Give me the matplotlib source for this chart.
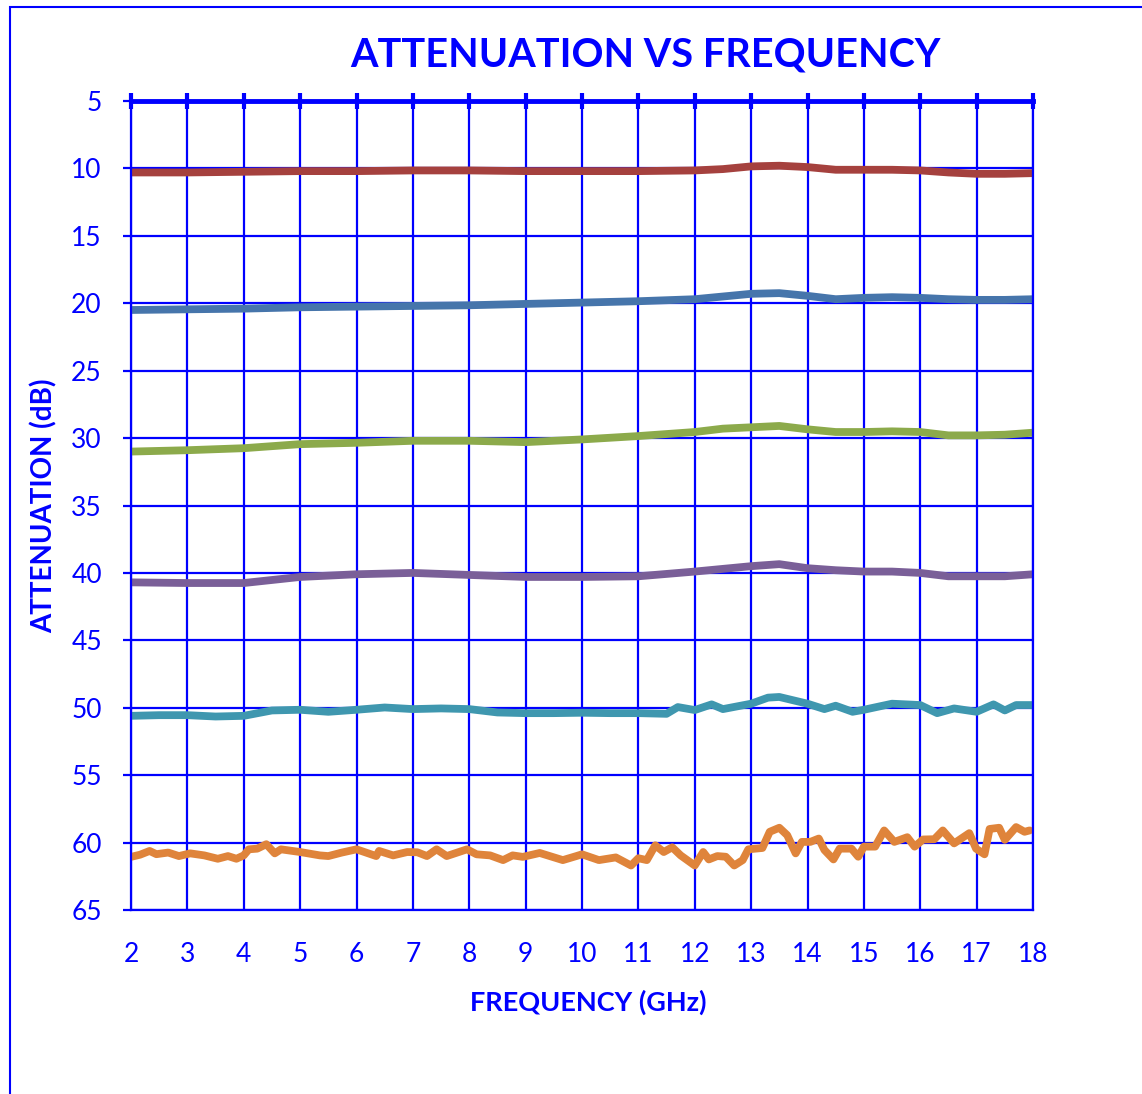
import matplotlib.pyplot as plt
from matplotlib.patches import Rectangle

# Données (fréquence en GHz, atténuation en dB)
freq_smooth = [2, 3, 4, 5, 6, 7, 8, 9, 10, 11, 12, 12.5, 13, 13.5, 14, 14.5, 15, 15.5, 16, 16.5, 17, 17.5, 18]
att_10db = [10.3, 10.3, 10.25, 10.2, 10.2, 10.15, 10.15, 10.2, 10.2, 10.2, 10.15, 10.05, 9.85, 9.8, 9.9,
            10.1, 10.1, 10.1, 10.15, 10.3, 10.4, 10.4, 10.35]
att_20db = [20.5, 20.45, 20.4, 20.3, 20.25, 20.2, 20.15, 20.05, 19.95, 19.85, 19.7, 19.5, 19.3, 19.25, 19.45,
            19.7, 19.6, 19.55, 19.6, 19.7, 19.75, 19.75, 19.7]
att_30db = [31.0, 30.9, 30.75, 30.45, 30.35, 30.2, 30.2, 30.3, 30.1, 29.85, 29.55, 29.3, 29.2, 29.1, 29.35,
            29.55, 29.55, 29.5, 29.55, 29.8, 29.8, 29.75, 29.6]
att_40db = [40.7, 40.75, 40.75, 40.3, 40.1, 40.0, 40.15, 40.3, 40.3, 40.25, 39.9, 39.7, 39.5, 39.35, 39.65,
            39.8, 39.9, 39.9, 40.0, 40.25, 40.25, 40.25, 40.1]

freq_50db = [2, 2.5, 3, 3.5, 4, 4.5, 5, 5.5, 6, 6.5, 7, 7.5, 8, 8.5, 9, 9.5, 10, 10.5, 11, 11.5, 11.7, 12,
             12.3, 12.5, 13, 13.3, 13.5, 14, 14.3, 14.5, 14.8, 15, 15.5, 16, 16.3, 16.6, 17, 17.3, 17.5, 17.7, 18]
att_50db = [50.6, 50.55, 50.55, 50.65, 50.6, 50.2, 50.15, 50.3, 50.15, 49.98, 50.1, 50.05, 50.1, 50.35, 50.4,
            50.4, 50.37, 50.4, 50.4, 50.45, 49.95, 50.17, 49.75, 50.1, 49.7, 49.25, 49.2, 49.7, 50.1, 49.85,
            50.3, 50.15, 49.7, 49.8, 50.4, 50.05, 50.3, 49.75, 50.2, 49.8, 49.8]

freq_60db = [2.0, 2.16, 2.33, 2.45, 2.66, 2.85, 3.05, 3.3, 3.54, 3.72, 3.87, 4.0, 4.09, 4.24, 4.4, 4.55,
             4.66, 5.0, 5.35, 5.5, 5.74, 6.0, 6.35, 6.4, 6.65, 6.9, 7.08, 7.25, 7.42, 7.6, 7.96, 8.13,
             8.37, 8.6, 8.77, 8.95, 9.25, 9.66, 9.9, 10.0, 10.3, 10.6, 10.87, 11.0, 11.15, 11.3, 11.45,
             11.6, 11.75, 12.0, 12.15, 12.25, 12.4, 12.55, 12.7, 12.85, 12.95, 13.2, 13.33, 13.5, 13.64,
             13.79, 13.9, 14.05, 14.2, 14.3, 14.46, 14.57, 14.78, 14.9, 15.0, 15.2, 15.36, 15.54, 15.77,
             15.9, 16.05, 16.25, 16.4, 16.6, 16.87, 16.99, 17.14, 17.23, 17.4, 17.5, 17.7, 17.85, 17.94]
att_60db = [61.06, 60.9, 60.62, 60.86, 60.74, 61.0, 60.8, 60.95, 61.2, 61.0, 61.2, 60.95, 60.5, 60.45,
            60.12, 60.8, 60.5, 60.7, 60.95, 61.0, 60.74, 60.5, 61.0, 60.62, 60.95, 60.7, 60.72, 61.0, 60.5,
            61.0, 60.5, 60.87, 60.95, 61.3, 60.95, 61.06, 60.77, 61.3, 61.0, 60.87, 61.3, 61.1, 61.7, 61.16,
            61.3, 60.2, 60.7, 60.35, 60.95, 61.7, 60.7, 61.25, 61.0, 61.05, 61.7, 61.3, 60.5, 60.4, 59.2,
            58.9, 59.45, 60.8, 59.95, 59.95, 59.7, 60.55, 61.25, 60.45, 60.45, 61.05, 60.3, 60.3, 59.1,
            59.95, 59.6, 60.3, 59.77, 59.75, 59.1, 60.06, 59.3, 60.45, 60.87, 58.99, 58.9, 59.8, 58.85,
            59.2, 59.1]

x_ticks = list(range(2, 19))
y_ticks = list(range(5, 66, 5))

BLEU = '#0000FF'
police = ['Lato', 'DejaVu Sans']

fig = plt.figure(figsize=(11.42, 10.94), dpi=100)
ax = fig.add_axes([131 / 1142, 1 - 910 / 1094, 902 / 1142, 809 / 1094])

# Cadre de la zone du graphique
fig.patches.append(Rectangle((10 / 1142, -0.1), 1.2, 1 - 7 / 1094 + 0.1, transform=fig.transFigure,
                             fill=False, edgecolor=BLEU, linewidth=1.5))

# Tracer les courbes
ep = 5.6
ax.plot(freq_smooth, att_10db, color='#A5413E', linewidth=ep, solid_capstyle='round')
ax.plot(freq_smooth, att_20db, color='#4675AB', linewidth=ep, solid_capstyle='round')
ax.plot(freq_smooth, att_30db, color='#8CAA4B', linewidth=ep, solid_capstyle='round')
ax.plot(freq_smooth, att_40db, color='#7A5F98', linewidth=ep, solid_capstyle='round')
ax.plot(freq_50db, att_50db, color='#3F97AF', linewidth=ep, solid_capstyle='round', solid_joinstyle='round')
ax.plot(freq_60db, att_60db, color='#DF843B', linewidth=ep, solid_capstyle='round', solid_joinstyle='round')

ax.set_xlim(2, 18)
ax.set_ylim(65, 5)
ax.set_xticks(x_ticks)
ax.set_yticks(y_ticks)
ax.grid(True, color=BLEU, linewidth=1.6)
ax.set_axisbelow(True)

for s in ['left', 'right', 'bottom']:
    ax.spines[s].set_color(BLEU)
    ax.spines[s].set_linewidth(1.6)
ax.spines['top'].set_color(BLEU)
ax.spines['top'].set_linewidth(3.5)

ax.tick_params(axis='x', which='both', bottom=False, top=True, direction='inout', length=12,
               width=3, color=BLEU, labelbottom=True, labeltop=False, labelcolor=BLEU, pad=17)
ax.tick_params(axis='y', direction='out', length=6, width=1.6, color=BLEU, labelcolor=BLEU, pad=15)
for lab in ax.get_xticklabels() + ax.get_yticklabels():
    lab.set_fontfamily(police)
    lab.set_fontsize(19)

# Titres des axes et titre principal
fig.text(588 / 1142, 1 - 1002 / 1094, "FREQUENCY (GHz)", ha='center', va='center',
         fontsize=19.5, fontweight='bold', color=BLEU, family=police)
fig.text(44 / 1142, 1 - 506 / 1094, "ATTENUATION (dB)", ha='center', va='center', rotation=90,
         fontsize=20, fontweight='bold', color=BLEU, family=police)
fig.text(645 / 1142, 1 - 55 / 1094, "ATTENUATION VS FREQUENCY", ha='center', va='center',
         fontsize=28.5, fontweight='bold', color=BLEU, family=police)

plt.savefig("out.png", dpi=100)
